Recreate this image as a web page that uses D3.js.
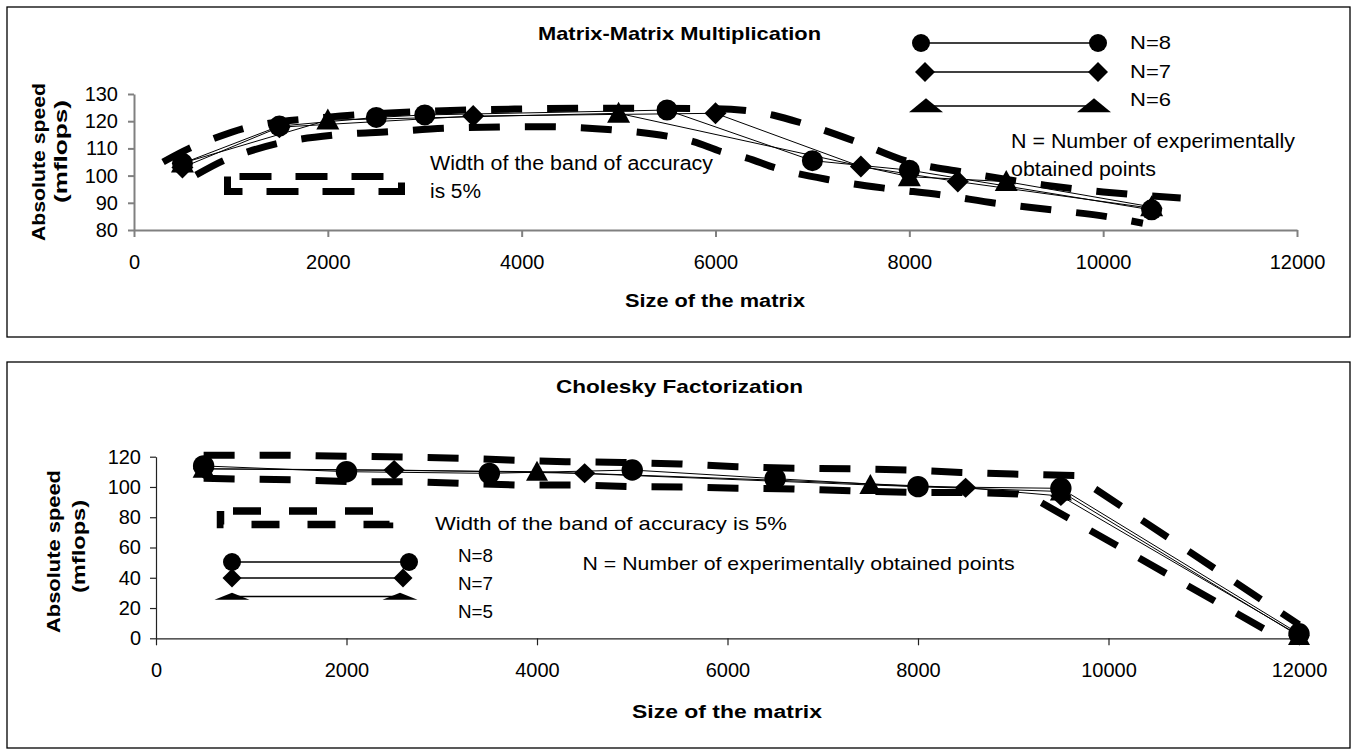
<!DOCTYPE html>
<html>
<head>
<meta charset="utf-8">
<script src="https://cdn.jsdelivr.net/npm/d3@7"></script>
<style>
  body { margin: 0; background: #fff; }
  svg text { font-family: "Liberation Sans", Arial, sans-serif; fill: #000; }
</style>
</head>
<body>
<svg id="chart" width="1357" height="755"></svg>
<script>
// ---- Matrix-Matrix Multiplication ----
const mmXTicks = [0, 2000, 4000, 6000, 8000, 10000, 12000]
const mmYTicks = [80, 90, 100, 110, 120, 130]
const mmSize8 = [500, 1500, 2500, 3000, 5500, 7000, 8000, 10500]
const mmSpeed8 = [104.5, 118.2, 121.4, 122.3, 124.1, 105.5, 102, 87.4]
const mmSize7 = [500, 1500, 3500, 6000, 7500, 8500, 10500]
const mmSpeed7 = [103, 117.8, 121.9, 122.9, 103.3, 97.8, 88]
const mmSize6 = [500, 2000, 5000, 8000, 9000, 10500]
const mmSpeed6 = [104.6, 120.4, 122.9, 99.6, 97.8, 88.5]
const mmBandUpper = [[300,105],[570,110],[830,113.7],[1140,117.4],[2000,121.5],[3000,123.6],[4000,124.5],
  [5000,124.8],[6000,124.6],[6600,122.2],[6900,119.2],[7450,112.5],[8000,105],[8550,101.3],
  [9400,96.5],[10000,94],[10800,91.8]]
const mmBandLower = [[640,100.2],[935,105.7],[1180,108.8],[1490,111.9],[2060,114.9],[2630,116.1],
  [3220,117.4],[4200,118],[4950,116.8],[5500,114.5],[5770,112.5],[6060,108.8],[6320,106.5],
  [6620,102.8],[7180,98.4],[7760,95.3],[8330,92.9],[8900,89.8],[9470,87.4],[10040,84.9],[10410,82.5]]

// ---- Cholesky Factorization ----
const chXTicks = [0, 2000, 4000, 6000, 8000, 10000, 12000]
const chYTicks = [0, 20, 40, 60, 80, 100, 120]
const chSize8 = [500, 2000, 3500, 5000, 6500, 8000, 9500, 12000]
const chSpeed8 = [113.9, 110.1, 109, 111.2, 105.5, 100.2, 99.1, 3]
const chSize7 = [500, 2500, 4500, 6500, 8500, 9500, 12000]
const chSpeed7 = [112, 111.2, 109, 104.5, 99.5, 94, 2]
const chSize5 = [500, 4000, 7500, 9500, 12000]
const chSpeed5 = [112, 110.1, 101.3, 97, 1.5]
const chBandUpper = [[500,121],[1400,121],[2000,120.3],[2600,119.8],[3200,119],[3700,117.8],[4300,116.7],
  [4900,116.2],[5500,115.2],[6100,113.4],[6700,112.4],[7300,112],[7900,111.2],[8450,109.6],
  [9000,108.5],[9650,107.5],[12000,9]]
const chBandLower = [[500,105.7],[1500,104.6],[2100,103.5],[2700,103.5],[3200,102.4],[3800,101.3],
  [4400,101.3],[5000,100.2],[5600,100],[6100,99.1],[6700,98.7],[7300,97.4],[7900,96.4],
  [8500,96.4],[9050,95.4],[9200,93],[11750,2]]

const svg = d3.select('#chart')

function markerD(shape, cx, cy, w, h) {
  if (shape === 'circle') {
    var p = d3.path()
    p.moveTo(cx + w, cy)
    p.arc(cx, cy, w, 0, 2 * Math.PI)
    p.closePath()
    return p.toString()
  }
  if (shape === 'diamond') return `M${cx},${cy-h}L${cx+w},${cy}L${cx},${cy+h}L${cx-w},${cy}Z`
  // triangle, apex up
  return `M${cx},${cy-h*0.55}L${cx+w},${cy+h*0.45}L${cx-w},${cy+h*0.45}Z`
}

function label(g, s, x, y, o) {
  var t = g.append('text').attr('x', x).attr('y', y).text(s)
    .style('font-size', o.size + 'px')
  if (o.bold) t.style('font-weight', 'bold')
  if (o.anchor) t.attr('text-anchor', o.anchor)
  if (o.len) t.attr('textLength', o.len).attr('lengthAdjust', 'spacingAndGlyphs')
  if (o.rotate) t.attr('transform', `rotate(-90 ${x} ${y})`)
  return t
}

function dashedBox(g, x0, y0, x1, y1, sw, dash, gap, start) {
  g.append('rect')
    .attr('x', x0).attr('y', y0).attr('width', x1 - x0).attr('height', y1 - y0)
    .attr('fill', 'none').attr('stroke', '#000').attr('stroke-width', sw)
    .attr('stroke-dasharray', dash + ',' + gap)
    .attr('stroke-dashoffset', dash + gap - start)
}

function drawChart(c) {
  var g = svg.append('g')
  g.append('rect').attr('x', c.frame[0]).attr('y', c.frame[1])
    .attr('width', c.frame[2] - c.frame[0]).attr('height', c.frame[3] - c.frame[1])
    .attr('fill', 'none').attr('stroke', '#000').attr('stroke-width', 1.3)

  var x = d3.scaleLinear().domain([0, 12000]).range([c.x0, c.x1])
  var y = d3.scaleLinear().domain([c.yTicks[0], c.yTicks[c.yTicks.length - 1]]).range([c.yb, c.yt])

  var xAxis = d3.axisBottom(x).tickValues(c.xTicks).tickSize(7).tickSizeOuter(0)
    .tickPadding(18).tickFormat(d3.format('d'))
  var yAxis = d3.axisLeft(y).tickValues(c.yTicks).tickSize(6).tickSizeOuter(0)
    .tickPadding(c.yPad).tickFormat(d3.format('d'))

  var gx = g.append('g').attr('transform', `translate(0,${c.yb})`).call(xAxis)
  var gy = g.append('g').attr('transform', `translate(${c.x0},0)`).call(yAxis)
  ;[gx, gy].forEach(function (a) {
    a.attr('font-family', null).attr('font-size', null)
    a.selectAll('path,line').attr('stroke', c.axisColor).attr('stroke-width', c.axisWidth)
    a.selectAll('text').style('font-size', '20px')
  })

  var band = d3.line().curve(c.bandCurve)
    .x(function (d) { return x(d[0]) }).y(function (d) { return y(d[1]) })
  ;[c.upper, c.lower].forEach(function (b) {
    g.append('path').attr('d', band(b)).attr('fill', 'none')
      .attr('stroke', '#000').attr('stroke-width', 7)
      .attr('stroke-dasharray', '31,25')
  })

  var line = d3.line().x(function (d) { return x(d[0]) }).y(function (d) { return y(d[1]) })
  c.series.forEach(function (s) {
    var pts = d3.zip(s.size, s.speed)
    g.append('path').attr('d', line(pts)).attr('fill', 'none')
      .attr('stroke', '#000').attr('stroke-width', 1)
  })
  c.series.forEach(function (s) {
    var pts = d3.zip(s.size, s.speed)
    g.selectAll(null).data(pts).enter().append('path')
      .attr('d', function (d) { return markerD(s.shape, x(d[0]), y(d[1]), s.w, s.h) })
      .attr('fill', '#000')
  })
  return g
}

// top chart
var mmG = drawChart({
  frame: [7, 7, 1350, 337],
  x0: 134, x1: 1297, yb: 230, yt: 94,
  xTicks: mmXTicks, yTicks: mmYTicks, yPad: 10,
  axisColor: '#808080', axisWidth: 2,
  bandCurve: d3.curveMonotoneX,
  upper: mmBandUpper, lower: mmBandLower,
  series: [
    { size: mmSize6, speed: mmSpeed6, shape: 'triangle', w: 11.5, h: 21 },
    { size: mmSize7, speed: mmSpeed7, shape: 'diamond', w: 11, h: 11 },
    { size: mmSize8, speed: mmSpeed8, shape: 'circle', w: 10.5, h: 10.5 }
  ]
})
label(mmG, 'Matrix-Matrix Multiplication', 679.5, 40, { size: 19, bold: true, anchor: 'middle', len: 283 })
label(mmG, 'Size of the matrix', 715, 307, { size: 18, bold: true, anchor: 'middle', len: 180 })
label(mmG, 'Absolute speed', 44.6, 162, { size: 19, bold: true, anchor: 'middle', len: 158, rotate: true })
label(mmG, '(mflops)', 66.5, 151.5, { size: 19, bold: true, anchor: 'middle', len: 103, rotate: true })
label(mmG, 'Width of the band of accuracy', 430, 170, { size: 20, len: 283 })
label(mmG, 'is 5%', 430, 198, { size: 20, len: 51 })
label(mmG, 'N = Number of experimentally', 1011, 148, { size: 20, len: 284 })
label(mmG, 'obtained points', 1011, 176, { size: 20, len: 145 })
dashedBox(mmG, 227.5, 176.5, 401.5, 191.5, 7, 32, 24, 12)
// legend (top)
var legTop = [
  { name: 'N=8', shape: 'circle', y: 43, xa: 921, xb: 1098, w: 9, h: 9, ty: 49 },
  { name: 'N=7', shape: 'diamond', y: 72, xa: 925, xb: 1098, w: 10, h: 10, ty: 78 },
  { name: 'N=6', shape: 'triangle', y: 106, xa: 926, xb: 1094, w: 17, h: 14, ty: 106 }
]
legTop.forEach(function (l) {
  mmG.append('line').attr('x1', l.xa).attr('x2', l.xb).attr('y1', l.y).attr('y2', l.y)
    .attr('stroke', '#000').attr('stroke-width', 1.4)
  ;[l.xa, l.xb].forEach(function (cx) {
    mmG.append('path').attr('d', markerD(l.shape, cx, l.y, l.w, l.h)).attr('fill', '#000')
  })
  label(mmG, l.name, 1130, l.ty, { size: 19, len: 41 })
})

// bottom chart
var chG = drawChart({
  frame: [7, 362, 1350, 748],
  x0: 156, x1: 1299, yb: 638.3, yt: 456.7,
  xTicks: chXTicks, yTicks: chYTicks, yPad: 9,
  axisColor: '#222', axisWidth: 1.2,
  bandCurve: d3.curveLinear,
  upper: chBandUpper, lower: chBandLower,
  series: [
    { size: chSize5, speed: chSpeed5, shape: 'triangle', w: 11, h: 20 },
    { size: chSize7, speed: chSpeed7, shape: 'diamond', w: 10.7, h: 10 },
    { size: chSize8, speed: chSpeed8, shape: 'circle', w: 10.7, h: 10.7 }
  ]
})
label(chG, 'Cholesky Factorization', 679.5, 393, { size: 19, bold: true, anchor: 'middle', len: 247 })
label(chG, 'Size of the matrix', 727, 718, { size: 18, bold: true, anchor: 'middle', len: 190 })
label(chG, 'Absolute speed', 60, 551.5, { size: 19, bold: true, anchor: 'middle', len: 163, rotate: true })
label(chG, '(mflops)', 85, 546.5, { size: 19, bold: true, anchor: 'middle', len: 93, rotate: true })
label(chG, 'Width of the band of accuracy is 5%', 435, 530, { size: 19, len: 352 })
label(chG, 'N = Number of experimentally obtained points', 582.6, 570, { size: 19, len: 432 })
dashedBox(chG, 220.5, 511, 389.5, 524.5, 7.5, 28, 28, 12.5)
var legBot = [
  { name: 'N=8', shape: 'circle', y: 562, xa: 232, xb: 409, w: 9, h: 9, ty: 562 },
  { name: 'N=7', shape: 'diamond', y: 578, xa: 232, xb: 403, w: 9.5, h: 9.5, ty: 590 },
  { name: 'N=5', shape: 'triangle', y: 596.5, xa: 232, xb: 400, w: 17.5, h: 7, ty: 618 }
]
legBot.forEach(function (l) {
  chG.append('line').attr('x1', l.xa).attr('x2', l.xb).attr('y1', l.y).attr('y2', l.y)
    .attr('stroke', '#000').attr('stroke-width', 1.4)
  ;[l.xa, l.xb].forEach(function (cx) {
    chG.append('path').attr('d', markerD(l.shape, cx, l.y, l.w, l.h)).attr('fill', '#000')
  })
  label(chG, l.name, 458, l.ty, { size: 19, len: 35 })
})
</script>
</body>
</html>
